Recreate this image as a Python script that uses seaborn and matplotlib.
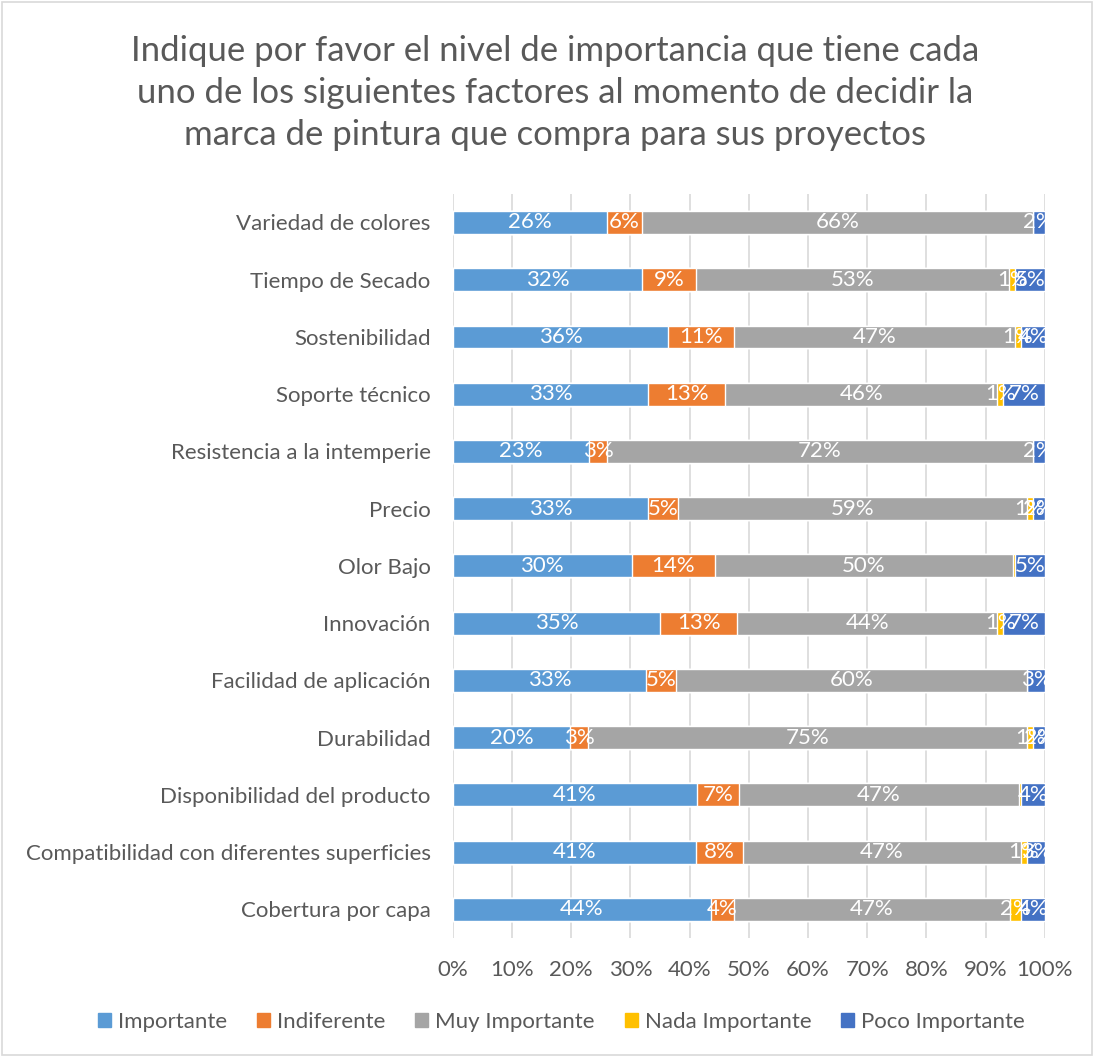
import matplotlib
matplotlib.use("Agg")
import matplotlib.pyplot as plt
import matplotlib.patches as mpatches
import seaborn as sns
import pandas as pd
import numpy as np

categories = ["Variedad de colores", "Tiempo de Secado", "Sostenibilidad", "Soporte técnico",
              "Resistencia a la intemperie", "Precio", "Olor Bajo", "Innovación",
              "Facilidad de aplicación", "Durabilidad", "Disponibilidad del producto",
              "Compatibilidad con diferentes superficies", "Cobertura por capa"]
importante = [26, 32, 36, 33, 23, 33, 30, 35, 33, 20, 41, 41, 44]
indiferente = [6, 9, 11, 13, 3, 5, 14, 13, 5, 3, 7, 8, 4]
muy_importante = [66, 53, 47, 46, 72, 59, 50, 44, 60, 75, 47, 47, 47]
nada_importante = [0, 1, 1, 1, 0, 1, 0.4, 1, 0, 1, 0.4, 1, 2]
poco_importante = [2, 5, 4, 7, 2, 2, 5, 7, 3, 2, 4, 3, 4]

series_names = ["Importante", "Indiferente", "Muy Importante", "Nada Importante", "Poco Importante"]
colors = ["#5B9BD5", "#ED7D31", "#A5A5A5", "#FFC000", "#4472C4"]

FONT = ["Lato", "DejaVu Sans"]
sns.set_theme(style="white")
plt.rcParams["font.family"] = FONT

vals = np.array([importante, indiferente, muy_importante, nada_importante, poco_importante], dtype=float)
totals = vals.sum(axis=0)
pct = vals / totals * 100
cum = np.cumsum(pct, axis=0)

fig = plt.figure(figsize=(10.94, 10.57), dpi=100)
ax = fig.add_axes([0.414, 0.1126, 0.541, 0.704])

# draw cumulative bars from the outermost to innermost
for i in range(4, -1, -1):
    df = pd.DataFrame({"cat": categories, "v": cum[i]})
    sns.barplot(data=df, x="v", y="cat", color=colors[i], orient="h", width=0.4,
                saturation=1, ax=ax, zorder=3)

# value labels
for i in range(5):
    for j in range(len(categories)):
        raw = vals[i, j]
        if raw < 0.95:
            continue
        start = cum[i, j] - pct[i, j]
        center = start + pct[i, j] / 2
        ax.text(center, j, f"{int(round(raw))}%", ha="center", va="center",
                color="white", fontsize=16, zorder=5)

ax.set_xlim(0, 100)
ax.set_ylim(len(categories) - 0.5, -0.5)
ax.set_xticks(np.arange(0, 101, 10))
ax.set_xticklabels([f"{t}%" for t in range(0, 101, 10)])
ax.xaxis.grid(True, color="#D9D9D9", linewidth=1.2, zorder=0)
ax.yaxis.grid(False)
ax.set_axisbelow(True)
for s in ax.spines.values():
    s.set_visible(False)
ax.set_xlabel("")
ax.set_ylabel("")
ax.tick_params(axis="x", colors="#595959", labelsize=16, pad=16, length=0)
ax.tick_params(axis="y", colors="#595959", labelsize=16, pad=16, length=0)

fig.text(0.507, 0.912, "Indique por favor el nivel de importancia que tiene cada\n"
         "uno de los siguientes factores al momento de decidir la\n"
         "marca de pintura que compra para sus proyectos",
         ha="center", va="center", fontsize=25, color="#595959", linespacing=1.38)

handles = [mpatches.Patch(color=c, label=n) for c, n in zip(colors, series_names)]
fig.legend(handles=handles, loc="center", bbox_to_anchor=(0.513, 0.033), ncol=5,
           frameon=False, fontsize=16, handlelength=0.6, handleheight=0.6,
           handletextpad=0.3, columnspacing=1.35, labelcolor="#595959")

fig.patches.append(mpatches.Rectangle((0.002, 0.002), 0.996, 0.996, transform=fig.transFigure,
                                      fill=False, edgecolor="#D9D9D9", linewidth=1.2))

fig.savefig("out.png", dpi=100)
